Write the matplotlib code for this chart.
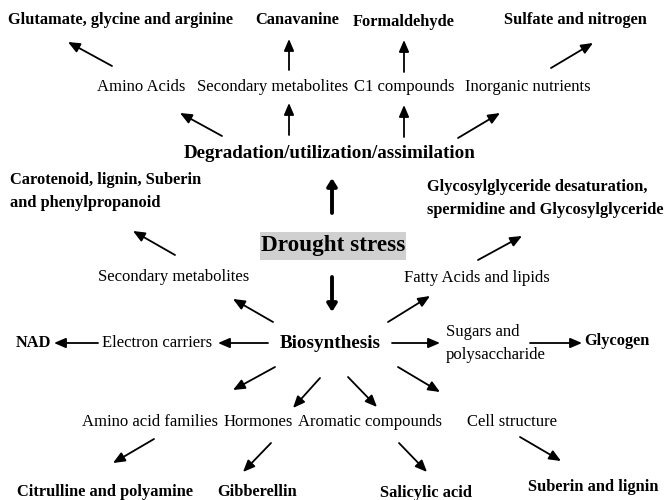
import matplotlib
matplotlib.use("Agg")
import matplotlib.pyplot as plt
from matplotlib.patches import Rectangle

plt.rcParams['font.family'] = ['Liberation Serif', 'DejaVu Serif']

# node labels (pixel coordinates of the 665x500 picture, y downward)
bold_labels = ["Glutamate, glycine and arginine", "Canavanine", "Formaldehyde",
               "Sulfate and nitrogen", "NAD", "Glycogen",
               "Citrulline and polyamine", "Gibberellin", "Salicylic acid",
               "Suberin and lignin"]
bold_x = [120, 297, 404, 575, 33, 617, 105, 257, 426, 593]
bold_y = [20, 20, 22, 20, 343, 341, 492, 492, 493, 487]

plain_labels = ["Amino Acids", "Secondary metabolites", "C1 compounds",
                "Inorganic nutrients", "Secondary metabolites",
                "Fatty Acids and lipids", "Electron carriers",
                "Amino acid families", "Hormones", "Aromatic compounds",
                "Cell structure"]
plain_x = [141, 273, 404, 528, 174, 477, 157, 150, 258, 370, 512]
plain_y = [87, 87, 87, 87, 277, 278, 343, 422, 422, 422, 422]

# thin arrows: (x_from, y_from, x_to, y_to)
arrows = [
    (112, 66, 68, 42), (289, 70, 289, 39), (404, 72, 404, 40), (551, 68, 593, 43),
    (222, 136, 180, 113), (289, 135, 289, 103), (404, 137, 404, 105), (458, 138, 500, 113),
    (175, 255, 133, 231), (273, 322, 233, 299),
    (478, 260, 522, 236), (388, 322, 430, 296),
    (98, 343, 54, 343), (268, 343, 218, 343), (392, 343, 440, 343), (530, 343, 582, 343),
    (275, 367, 233, 390), (320, 378, 293, 408), (348, 377, 377, 407), (398, 367, 440, 392),
    (154, 439, 113, 463), (271, 443, 243, 472), (399, 443, 427, 472), (520, 437, 561, 461),
]
# thick arrows from the central node
thick_arrows = [(332, 213, 332, 178), (332, 277, 332, 312)]

fig = plt.figure(figsize=(6.65, 5.0), dpi=100)
ax = fig.add_axes([0, 0, 1, 1])
ax.set_xlim(0, 665)
ax.set_ylim(500, 0)
ax.axis('off')

for t, x, y in zip(bold_labels, bold_x, bold_y):
    ax.text(x, y, t, ha='center', va='center', fontsize=11.75, fontweight='bold')

for t, x, y in zip(plain_labels, plain_x, plain_y):
    ax.text(x, y, t, ha='center', va='center', fontsize=12)

ax.text(330, 154, "Degradation/utilization/assimilation", ha='center', va='center',
        fontsize=13.7, fontweight='bold')
ax.text(330, 343, "Biosynthesis", ha='center', va='center', fontsize=13.8, fontweight='bold')

ax.add_patch(Rectangle((260, 232), 146, 28, facecolor='#d0d0d0', edgecolor='none'))
ax.text(333, 246, "Drought stress", ha='center', va='center', fontsize=16.7, fontweight='bold')

ax.text(10, 180, "Carotenoid, lignin, Suberin", ha='left', va='center', fontsize=11.75, fontweight='bold')
ax.text(10, 203, "and phenylpropanoid", ha='left', va='center', fontsize=11.75, fontweight='bold')
ax.text(427, 187, "Glycosylglyceride desaturation,", ha='left', va='center', fontsize=11.75, fontweight='bold')
ax.text(427, 210, "spermidine and Glycosylglyceride", ha='left', va='center', fontsize=11.75, fontweight='bold')
ax.text(446, 332, "Sugars and", ha='left', va='center', fontsize=12)
ax.text(446, 355, "polysaccharide", ha='left', va='center', fontsize=12)

for x0, y0, x1, y1 in arrows:
    ax.annotate("", xy=(x1, y1), xytext=(x0, y0),
                arrowprops=dict(arrowstyle='-|>,head_length=0.7,head_width=0.3',
                                color='black', lw=1.3, shrinkA=0, shrinkB=0))

for x0, y0, x1, y1 in thick_arrows:
    ax.annotate("", xy=(x1, y1), xytext=(x0, y0),
                arrowprops=dict(arrowstyle='-|>,head_length=0.45,head_width=0.28',
                                color='black', lw=2.8, shrinkA=0, shrinkB=0))

fig.savefig("out.png", dpi=100)
